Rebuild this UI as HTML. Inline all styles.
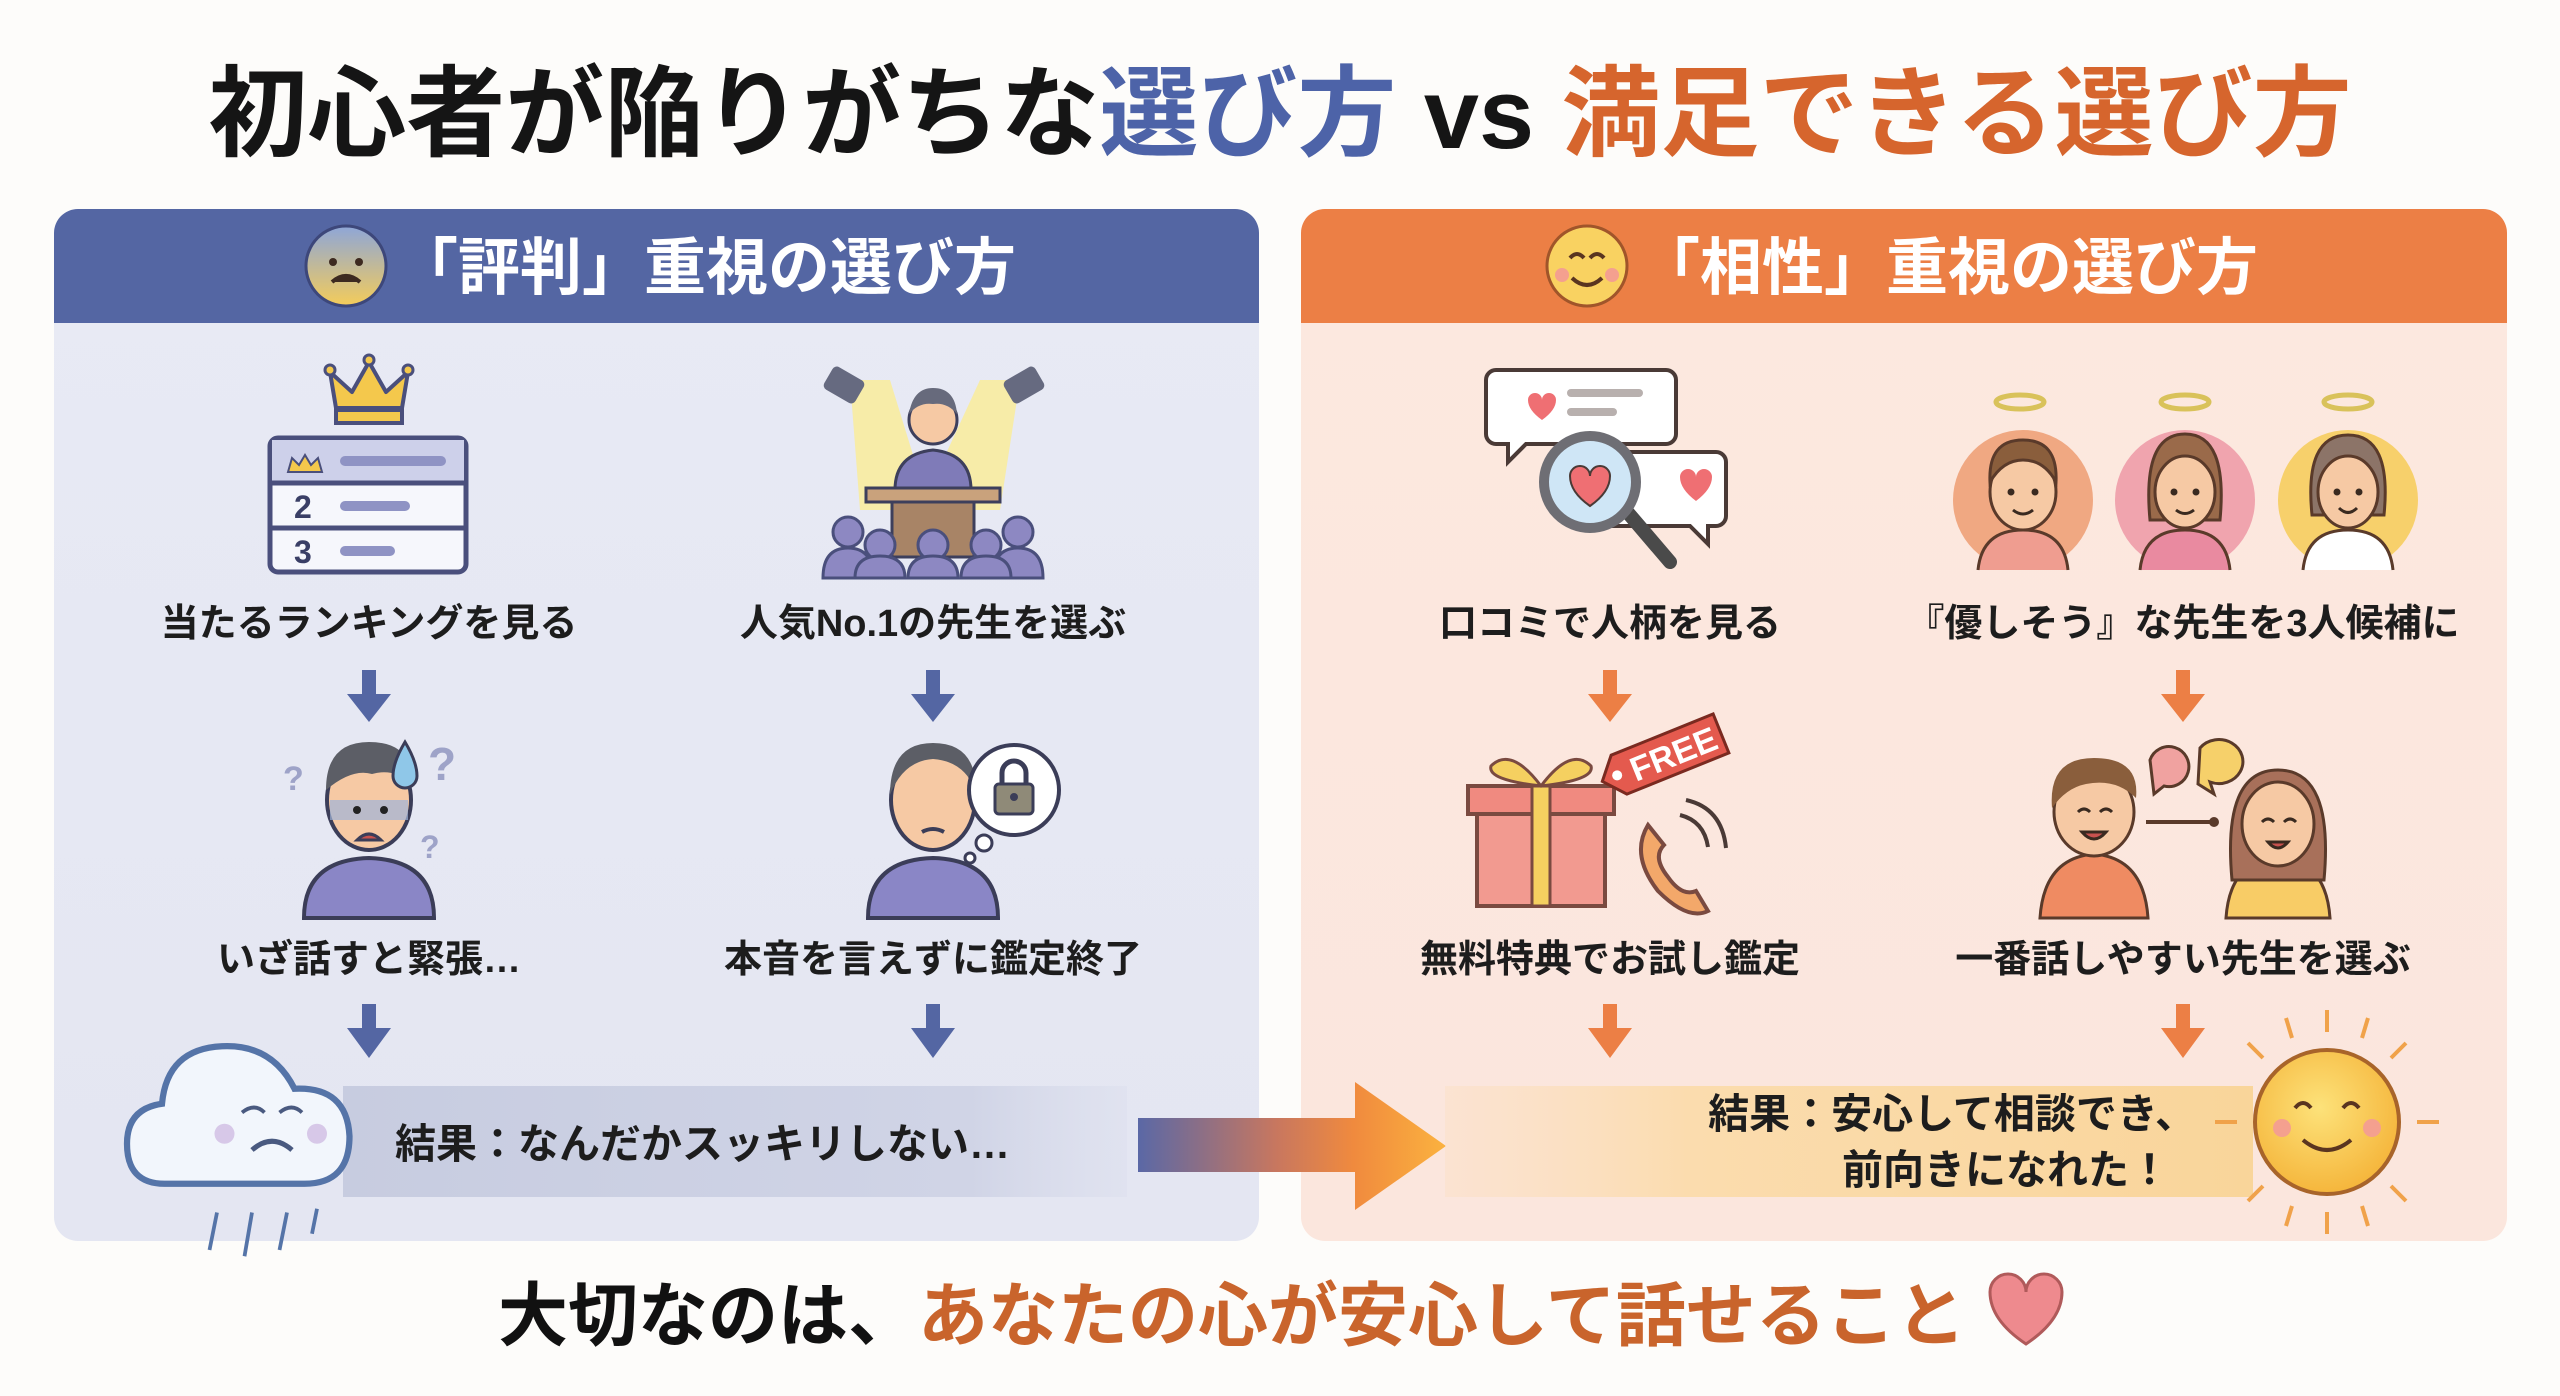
<!DOCTYPE html>
<html><head><meta charset="utf-8">
<style>
html,body{margin:0;padding:0;background:#fdfcfa;}
svg{display:block;}
text{font-family:"Liberation Sans","Noto Sans CJK JP",sans-serif;font-weight:bold;}
</style></head>
<body>
<svg width="2560" height="1396" viewBox="0 0 2560 1396" xmlns="http://www.w3.org/2000/svg">
<defs>
<linearGradient id="lbody" x1="0" y1="0" x2="0" y2="1"><stop offset="0" stop-color="#e8eaf4"/><stop offset="1" stop-color="#e4e6f2"/></linearGradient>
<linearGradient id="rbody" x1="0" y1="0" x2="0" y2="1"><stop offset="0" stop-color="#fce8df"/><stop offset="1" stop-color="#fbe6dd"/></linearGradient>
<linearGradient id="lbar" x1="0" y1="0" x2="1" y2="0"><stop offset="0" stop-color="#c7cce0"/><stop offset="0.8" stop-color="#d0d4e6"/><stop offset="1" stop-color="#dde0ee" stop-opacity="0.6"/></linearGradient>
<linearGradient id="rbar" x1="0" y1="0" x2="1" y2="0"><stop offset="0" stop-color="#fbe0c6" stop-opacity="0.5"/><stop offset="0.3" stop-color="#fbdcae"/><stop offset="1" stop-color="#f9d59a"/></linearGradient>
<linearGradient id="barrow" x1="0" y1="0" x2="1" y2="0"><stop offset="0" stop-color="#5a68a6"/><stop offset="0.45" stop-color="#c8775f"/><stop offset="0.7" stop-color="#f08a3e"/><stop offset="1" stop-color="#fbb23f"/></linearGradient>
<linearGradient id="faceL" x1="0" y1="0" x2="0" y2="1"><stop offset="0" stop-color="#8ea6d8"/><stop offset="1" stop-color="#f4cc5a"/></linearGradient>
<radialGradient id="sun" cx="0.45" cy="0.4" r="0.6"><stop offset="0" stop-color="#fde27a"/><stop offset="1" stop-color="#f5b63c"/></radialGradient>
</defs>

<!-- Title -->
<text x="1280" y="148" text-anchor="middle" font-size="99" fill="#151515">初心者が陥りがちな<tspan fill="#4d63a8">選び方</tspan> vs <tspan fill="#d6652d">満足できる選び方</tspan></text>

<!-- Left panel -->
<rect x="54" y="209" width="1205" height="1032" rx="24" fill="url(#lbody)"/>
<path d="M54 323 V233 a24 24 0 0 1 24 -24 H1235 a24 24 0 0 1 24 24 V323 Z" fill="#5466a3"/>
<circle cx="346" cy="266" r="40" fill="url(#faceL)" stroke="#3d477a" stroke-width="3"/>
<path d="M332 282 q14 -12 28 0" stroke="#3d2a20" stroke-width="4" fill="#3d2a20"/>
<circle cx="333" cy="262" r="4" fill="#3d2a20"/><circle cx="359" cy="262" r="4" fill="#3d2a20"/>
<text x="706" y="289" text-anchor="middle" font-size="62" fill="#fff">「評判」重視の選び方</text>

<!-- Right panel -->
<rect x="1301" y="209" width="1206" height="1032" rx="24" fill="url(#rbody)"/>
<path d="M1301 323 V233 a24 24 0 0 1 24 -24 H2483 a24 24 0 0 1 24 24 V323 Z" fill="#ec7f45"/>
<circle cx="1587" cy="266" r="40" fill="#f9d261" stroke="#a0552a" stroke-width="3"/>
<path d="M1570 258 q7 -8 14 0 M1590 258 q7 -8 14 0" stroke="#5a3520" stroke-width="4" fill="none"/>
<path d="M1572 278 q15 14 30 0" stroke="#5a3520" stroke-width="4" fill="none"/>
<circle cx="1562" cy="275" r="7" fill="#f4a08f"/><circle cx="1612" cy="275" r="7" fill="#f4a08f"/>
<text x="1948" y="289" text-anchor="middle" font-size="62" fill="#fff">「相性」重視の選び方</text>

<!-- Left col1 icon: ranking -->
<path d="M336 408 L330 372 L352 392 L369 362 L386 392 L408 372 L402 408 z" fill="#f4c84c" stroke="#4a4f7c" stroke-width="4" stroke-linejoin="round"/>
<circle cx="330" cy="370" r="5" fill="#f4c84c" stroke="#4a4f7c" stroke-width="3"/>
<circle cx="369" cy="360" r="5" fill="#f4c84c" stroke="#4a4f7c" stroke-width="3"/>
<circle cx="408" cy="370" r="5" fill="#f4c84c" stroke="#4a4f7c" stroke-width="3"/>
<rect x="336" y="410" width="66" height="13" fill="#f4c84c" stroke="#4a4f7c" stroke-width="4"/>
<rect x="270" y="438" width="196" height="134" rx="8" fill="#f6f7fc" stroke="#4a4f7c" stroke-width="5"/>
<rect x="272" y="440" width="192" height="42" fill="#cdd0ea"/>
<line x1="270" y1="483" x2="466" y2="483" stroke="#4a4f7c" stroke-width="5"/>
<line x1="270" y1="528" x2="466" y2="528" stroke="#4a4f7c" stroke-width="5"/>
<path d="M288 472 l4 -14 l7 7 l6 -10 l6 10 l7 -7 l4 14 z" fill="#f4c84c" stroke="#4a4f7c" stroke-width="2"/>
<rect x="340" y="456" width="106" height="10" rx="5" fill="#8f93c4"/>
<text x="294" y="518" font-size="32" fill="#3a3f66">2</text><rect x="340" y="501" width="70" height="10" rx="5" fill="#8f93c4"/>
<text x="294" y="563" font-size="32" fill="#3a3f66">3</text><rect x="340" y="546" width="55" height="10" rx="5" fill="#8f93c4"/>

<!-- Left col2 icon: podium -->
<polygon points="850,380 890,380 930,510 860,510" fill="#f8eca0" opacity="0.9"/>
<polygon points="1020,380 980,380 920,510 1000,510" fill="#f8eca0" opacity="0.9"/>
<rect x="826" y="372" width="36" height="26" rx="5" fill="#666a80" transform="rotate(30 844 385)"/>
<rect x="1006" y="372" width="36" height="26" rx="5" fill="#666a80" transform="rotate(-30 1024 385)"/>
<circle cx="933" cy="420" r="24" fill="#f6c9a4" stroke="#3d3f5c" stroke-width="3"/>
<path d="M909 414 q4 -26 24 -26 q22 0 24 26 q-10 -12 -24 -10 q-14 -2 -24 10z" fill="#676a7c"/>
<path d="M895 490 q0 -36 38 -40 q38 4 38 40z" fill="#7f7bb8" stroke="#3d3f5c" stroke-width="3"/>
<rect x="866" y="488" width="134" height="14" fill="#c9a27c" stroke="#3d3f5c" stroke-width="3"/>
<rect x="892" y="502" width="82" height="55" fill="#a88466" stroke="#3d3f5c" stroke-width="3"/>
<g fill="#8d88c2" stroke="#4a4f7c" stroke-width="3">
<circle cx="848" cy="532" r="15"/><path d="M823 578 q0 -30 25 -30 q25 0 25 30z"/>
<circle cx="1018" cy="532" r="15"/><path d="M993 578 q0 -30 25 -30 q25 0 25 30z"/>
<circle cx="880" cy="545" r="15"/><path d="M855 578 q0 -22 25 -22 q25 0 25 22z"/>
<circle cx="933" cy="545" r="15"/><path d="M908 578 q0 -22 25 -22 q25 0 25 22z"/>
<circle cx="986" cy="545" r="15"/><path d="M961 578 q0 -22 25 -22 q25 0 25 22z"/>
</g>

<!-- Labels row 1 -->
<text x="369" y="636" text-anchor="middle" font-size="38" fill="#1d1d1d">当たるランキングを見る</text>
<text x="933" y="636" text-anchor="middle" font-size="38" fill="#1d1d1d">人気No.1の先生を選ぶ</text>
<text x="1610" y="636" text-anchor="middle" font-size="38" fill="#1d1d1d">口コミで人柄を見る</text>
<text x="2183" y="636" text-anchor="middle" font-size="38" fill="#1d1d1d">『優しそう』な先生を3人候補に</text>

<!-- Arrows -->
<g fill="#5466a3">
<rect x="362" y="670" width="14" height="26"/><polygon points="347,694 391,694 369,722"/>
<rect x="926" y="670" width="14" height="26"/><polygon points="911,694 955,694 933,722"/>
<rect x="362" y="1004" width="14" height="26"/><polygon points="347,1028 391,1028 369,1058"/>
<rect x="926" y="1004" width="14" height="26"/><polygon points="911,1028 955,1028 933,1058"/>
</g>
<g fill="#ec7f45">
<rect x="1603" y="670" width="14" height="26"/><polygon points="1588,694 1632,694 1610,722"/>
<rect x="2176" y="670" width="14" height="26"/><polygon points="2161,694 2205,694 2183,722"/>
<rect x="1603" y="1004" width="14" height="26"/><polygon points="1588,1028 1632,1028 1610,1058"/>
<rect x="2176" y="1004" width="14" height="26"/><polygon points="2161,1028 2205,1028 2183,1058"/>
</g>

<!-- Left row2 person 1 (nervous) -->
<path d="M304 918 q0 -58 65 -60 q65 2 65 60z" fill="#8a86c6" stroke="#3b3d58" stroke-width="4"/>
<ellipse cx="369" cy="800" rx="42" ry="50" fill="#f6c9a4" stroke="#3b3d58" stroke-width="4"/>
<path d="M330 800 h78 v20 h-78z" fill="#9fb4d8" opacity="0.7"/>
<path d="M326 790 q0 -48 43 -48 q43 0 43 40 q-20 -14 -40 -8 q-20 -6 -46 16z" fill="#5c5e66"/>
<circle cx="357" cy="810" r="4" fill="#222"/><circle cx="384" cy="810" r="4" fill="#222"/>
<path d="M357 840 q12 -12 24 0 z" fill="#c8524f" stroke="#3b3d58" stroke-width="3"/>
<path d="M405 742 q12 20 12 34 a12 12 0 0 1 -24 0 q0 -14 12 -34z" fill="#8fc7e8" stroke="#3b3d58" stroke-width="3"/>
<text x="283" y="790" font-size="34" fill="#9ea3c8">?</text>
<text x="428" y="780" font-size="46" fill="#9ea3c8">?</text>
<text x="420" y="858" font-size="32" fill="#9ea3c8">?</text>

<!-- Left row2 person 2 (lock) -->
<path d="M868 918 q0 -58 65 -60 q65 2 65 60z" fill="#8a86c6" stroke="#3b3d58" stroke-width="4"/>
<ellipse cx="933" cy="800" rx="42" ry="50" fill="#f6c9a4" stroke="#3b3d58" stroke-width="4"/>
<path d="M890 795 q0 -52 43 -52 q43 0 43 48 q-12 -30 -43 -32 q-30 2 -43 36z" fill="#5c5e66"/>
<path d="M922 832 q11 -6 22 0" stroke="#3b3d58" stroke-width="4" fill="none"/>
<circle cx="1014" cy="790" r="45" fill="#fff" stroke="#3b3d58" stroke-width="4"/>
<circle cx="984" cy="843" r="8" fill="#fff" stroke="#3b3d58" stroke-width="3"/>
<circle cx="970" cy="858" r="5" fill="#fff" stroke="#3b3d58" stroke-width="3"/>
<path d="M1002 785 v-12 a12 12 0 0 1 24 0 v12" stroke="#3b3d58" stroke-width="5" fill="none"/>
<rect x="995" y="784" width="38" height="30" rx="4" fill="#8f8a78" stroke="#3b3d58" stroke-width="3"/>
<circle cx="1014" cy="797" r="4" fill="#3b3d58"/>

<text x="369" y="972" text-anchor="middle" font-size="38" fill="#1d1d1d">いざ話すと緊張…</text>
<text x="933" y="972" text-anchor="middle" font-size="38" fill="#1d1d1d">本音を言えずに鑑定終了</text>
<text x="1610" y="972" text-anchor="middle" font-size="38" fill="#1d1d1d">無料特典でお試し鑑定</text>
<text x="2183" y="972" text-anchor="middle" font-size="38" fill="#1d1d1d">一番話しやすい先生を選ぶ</text>

<!-- Left result bar -->
<rect x="343" y="1086" width="784" height="111" fill="url(#lbar)"/>
<text x="395" y="1158" font-size="41" fill="#1d1d1d">結果：なんだかスッキリしない…</text>
<!-- cloud -->
<g transform="translate(242 1125) scale(1.25) translate(-210 -1125)">
<path d="M148 1172 q-30 0 -30 -32 q0 -28 28 -32 q4 -44 48 -46 q40 -2 58 34 q42 -2 44 38 q0 38 -36 38z" fill="#f2f6fc" stroke="#5574a8" stroke-width="5"/>
<path d="M210 1115 q10 -8 18 0 M240 1115 q10 -8 18 0" stroke="#4a5a80" stroke-width="3" fill="none"/>
<path d="M218 1145 q16 -14 32 0" stroke="#4a5a80" stroke-width="4" fill="none"/>
<circle cx="196" cy="1132" r="8" fill="#d7c8e8"/><circle cx="270" cy="1132" r="8" fill="#d7c8e8"/>
<g stroke="#5574a8" stroke-width="3"><line x1="190" y1="1195" x2="184" y2="1225"/><line x1="218" y1="1195" x2="212" y2="1230"/><line x1="246" y1="1195" x2="240" y2="1225"/><line x1="270" y1="1192" x2="266" y2="1212"/></g>
</g>

<!-- Big arrow -->
<path d="M1138 1118 H1355 V1082 L1446 1146 L1355 1210 V1172 H1138z" fill="url(#barrow)"/>

<!-- Right result bar -->
<rect x="1445" y="1086" width="808" height="111" fill="url(#rbar)"/>
<text x="2196" y="1128" text-anchor="end" font-size="41" fill="#1d1d1d">結果：安心して相談でき、</text>
<text x="2170" y="1184" text-anchor="end" font-size="41" fill="#1d1d1d">前向きになれた！</text>
<!-- sun -->
<g stroke="#f0a24a" stroke-width="4">
<line x1="2327" y1="1010" x2="2327" y2="1032"/><line x1="2327" y1="1212" x2="2327" y2="1234"/>
<line x1="2215" y1="1122" x2="2237" y2="1122"/><line x1="2417" y1="1122" x2="2439" y2="1122"/>
<line x1="2248" y1="1043" x2="2263" y2="1058"/><line x1="2391" y1="1186" x2="2406" y2="1201"/>
<line x1="2406" y1="1043" x2="2391" y2="1058"/><line x1="2263" y1="1186" x2="2248" y2="1201"/>
<line x1="2286" y1="1018" x2="2292" y2="1038"/><line x1="2368" y1="1018" x2="2362" y2="1038"/>
<line x1="2286" y1="1226" x2="2292" y2="1206"/><line x1="2368" y1="1226" x2="2362" y2="1206"/>
</g>
<circle cx="2327" cy="1122" r="72" fill="url(#sun)" stroke="#a8642a" stroke-width="4"/>
<path d="M2295 1108 q8 -10 16 0 M2343 1108 q8 -10 16 0" stroke="#5a3520" stroke-width="4" fill="none"/>
<path d="M2303 1140 q24 20 48 0" stroke="#5a3520" stroke-width="4" fill="none"/>
<circle cx="2282" cy="1128" r="9" fill="#f4a08f"/><circle cx="2372" cy="1128" r="9" fill="#f4a08f"/>

<!-- Right col1: reviews + magnifier -->
<path d="M1496 370 h170 a10 10 0 0 1 10 10 v54 a10 10 0 0 1 -10 10 h-140 l-18 18 v-18 h-12 a10 10 0 0 1 -10 -10 v-54 a10 10 0 0 1 10 -10z" fill="#fff" stroke="#4a3a36" stroke-width="4"/>
<path d="M1528 400 a7 7 0 0 1 14 0 a7 7 0 0 1 14 0 q0 10 -14 20 q-14 -10 -14 -20z" fill="#ef6f73"/>
<rect x="1567" y="389" width="76" height="8" rx="4" fill="#b8b0ae"/><rect x="1567" y="408" width="50" height="8" rx="4" fill="#b8b0ae"/>
<path d="M1600 452 h116 a10 10 0 0 1 10 10 v54 a10 10 0 0 1 -10 10 h-8 v18 l-18 -18 h-90z" fill="#fff" stroke="#4a3a36" stroke-width="4"/>
<path d="M1680 477 a8 8 0 0 1 16 0 a8 8 0 0 1 16 0 q0 12 -16 24 q-16 -12 -16 -24z" fill="#ef6f73"/>
<line x1="1623" y1="507" x2="1670" y2="562" stroke="#4a4a4a" stroke-width="14" stroke-linecap="round"/>
<circle cx="1590" cy="482" r="46" fill="#cfe6f6" stroke="#6e6e74" stroke-width="10"/>
<path d="M1570 476 a10 10 0 0 1 20 0 a10 10 0 0 1 20 0 q0 16 -20 30 q-20 -14 -20 -30z" fill="#ef6f73" stroke="#4a3a36" stroke-width="2"/>

<!-- Right col2: three avatars -->
<g stroke="#d9c25a" stroke-width="5" fill="none">
<ellipse cx="2020" cy="402" rx="24" ry="7"/><ellipse cx="2185" cy="402" rx="24" ry="7"/><ellipse cx="2348" cy="402" rx="24" ry="7"/>
</g>
<circle cx="2023" cy="500" r="70" fill="#f0a882"/>
<circle cx="2185" cy="500" r="70" fill="#f0a4ae"/>
<circle cx="2348" cy="500" r="70" fill="#f7d06b"/>
<g stroke="#5a3a2a" stroke-width="3">
<path d="M1978 570 q4 -40 45 -40 q41 0 45 40" fill="#ef9d90"/>
<ellipse cx="2023" cy="492" rx="33" ry="38" fill="#f6c9a4"/>
<path d="M1990 482 q-2 -42 33 -42 q35 0 33 42 q-12 -22 -33 -22 q-20 0 -33 22z" fill="#8a5e3c"/>
<path d="M2140 570 q4 -40 45 -40 q41 0 45 40" fill="#e98aa0"/>
<path d="M2150 520 q-8 -86 35 -86 q43 0 35 86z" fill="#9a6a4a"/>
<ellipse cx="2185" cy="492" rx="30" ry="36" fill="#f6c9a4"/>
<path d="M2303 570 q4 -40 45 -40 q41 0 45 40" fill="#fff"/>
<path d="M2312 515 q-8 -80 36 -80 q44 0 36 80z" fill="#8c7468"/>
<ellipse cx="2348" cy="492" rx="30" ry="36" fill="#f6c9a4"/>
</g>
<g fill="#3a2a20"><circle cx="2011" cy="492" r="3.5"/><circle cx="2035" cy="492" r="3.5"/><circle cx="2174" cy="492" r="3.5"/><circle cx="2196" cy="492" r="3.5"/><circle cx="2337" cy="492" r="3.5"/><circle cx="2359" cy="492" r="3.5"/></g>
<g stroke="#3a2a20" stroke-width="3" fill="none"><path d="M2013 510 q10 8 20 0"/><path d="M2176 510 q9 7 18 0"/><path d="M2339 508 q9 9 18 0"/></g>

<!-- Right row2 col1: gift + phone -->
<rect x="1477" y="810" width="128" height="96" fill="#f29a90" stroke="#7a4a40" stroke-width="4"/>
<rect x="1468" y="786" width="146" height="28" fill="#f08a80" stroke="#7a4a40" stroke-width="4"/>
<rect x="1532" y="786" width="18" height="120" fill="#f5d060" stroke="#7a4a40" stroke-width="3"/>
<path d="M1541 786 q-30 -40 -50 -20 q-4 14 50 20 q30 -40 50 -20 q4 14 -50 20z" fill="#f5d060" stroke="#7a4a40" stroke-width="3"/>
<g transform="rotate(-22 1665 755)">
<path d="M1615 735 h110 v42 h-110 l-18 -21z" fill="#e45a4e" stroke="#7a2a20" stroke-width="3"/>
<circle cx="1613" cy="756" r="5" fill="#fff"/>
<text x="1628" y="769" font-size="34" fill="#fff">FREE</text>
</g>
<path d="M1648 825 q-18 30 10 66 q30 30 50 20 l-12 -20 q-14 6 -28 -14 q-16 -20 -4 -32z" fill="#f3a86a" stroke="#7a4a40" stroke-width="4"/>
<g stroke="#4a3a36" stroke-width="4" fill="none"><path d="M1680 815 q24 6 28 32"/><path d="M1686 800 q36 8 40 48"/></g>

<!-- Right row2 col2: two people talking -->
<path d="M2040 918 q4 -60 54 -64 q50 4 54 64z" fill="#ef8b62" stroke="#5a3a2a" stroke-width="3"/>
<ellipse cx="2094" cy="812" rx="40" ry="44" fill="#f6c9a4" stroke="#5a3a2a" stroke-width="3"/>
<path d="M2052 808 q-4 -50 42 -50 q46 0 42 40 q-20 -20 -50 -14 q-20 4 -34 24z" fill="#8a5e3c"/>
<path d="M2226 918 q4 -58 52 -60 q48 2 52 60z" fill="#f8cc66" stroke="#5a3a2a" stroke-width="3"/>
<path d="M2232 880 q-10 -110 46 -110 q56 0 46 110z" fill="#a8705a" stroke="#5a3a2a" stroke-width="3"/>
<ellipse cx="2278" cy="824" rx="36" ry="42" fill="#f6c9a4" stroke="#5a3a2a" stroke-width="3"/>
<g stroke="#3a2a20" stroke-width="3" fill="none"><path d="M2078 812 q6 -6 12 0 M2100 812 q6 -6 12 0"/><path d="M2082 832 q12 14 24 0z" fill="#c8524f"/><path d="M2262 822 q6 -6 12 0 M2284 822 q6 -6 12 0"/><path d="M2268 842 q10 12 20 0z" fill="#c8524f"/></g>
<line x1="2146" y1="822" x2="2212" y2="822" stroke="#5a3a2a" stroke-width="4"/><circle cx="2214" cy="822" r="5" fill="#5a3a2a"/>
<path d="M2150 760 a20 20 0 1 1 14 26 l-10 8z" fill="#f0a2a0" stroke="#5a3a2a" stroke-width="3"/>
<path d="M2200 748 a24 22 0 1 1 10 34 l4 12 l-16 -10z" fill="#f6d06a" stroke="#5a3a2a" stroke-width="3"/>

<!-- Bottom message -->
<text x="498" y="1340" font-size="70" fill="#111">大切なのは、<tspan fill="#c9642c">あなたの心が安心して話せること</tspan></text>
<path d="M1990 1292 a18 18 0 0 1 36 0 a18 18 0 0 1 36 0 q0 28 -36 52 q-36 -24 -36 -52z" fill="#ee8a8e" stroke="#b05a5a" stroke-width="3"/>
</svg>
</body></html>
